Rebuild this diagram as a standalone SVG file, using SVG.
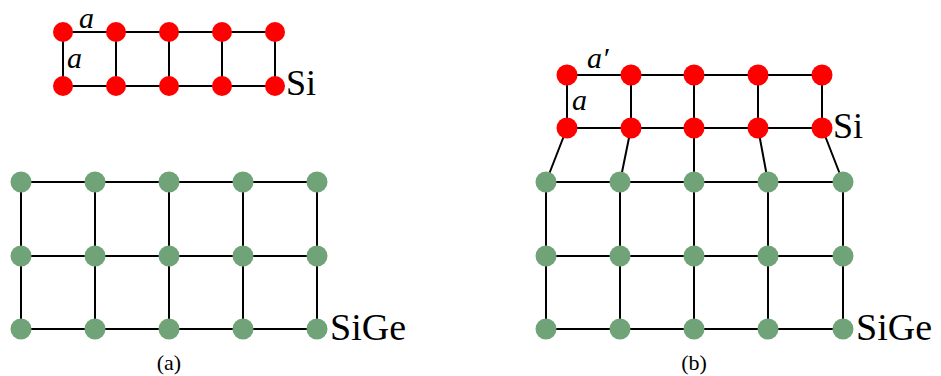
<svg xmlns="http://www.w3.org/2000/svg" width="941" height="376" viewBox="0 0 941 376">
<style>
.e{stroke:#000;stroke-width:2;fill:none}
.si{fill:#ff0000}
.sg{fill:#70a377}
</style>
<rect width="941" height="376" fill="#fff"/>
<g id="connectors" class="e">
<path d="M63,32H275M63,86H275M63,32V86M116,32V86M169,32V86M222,32V86M275,32V86"/>
<path d="M21,182H317M21,256H317M21,329H317M21,182V329M95,182V329M169,182V329M243,182V329M317,182V329"/>
<path d="M567,75H822M567,128H822M567,75V128M631,75V128M694,75V128M758,75V128M822,75V128"/>
<path d="M546,182H843M546,256H843M546,329H843M546,182V329M620,182V329M694,182V329M768,182V329M843,182V329"/>
<path d="M567,128L546,182M631,128L620,182M694,128L694,182M758,128L768,182M822,128L843,182"/>
</g>
<g id="si-a" class="si">
<circle cx="63" cy="32" r="10"/><circle cx="116" cy="32" r="10"/><circle cx="169" cy="32" r="10"/><circle cx="222" cy="32" r="10"/><circle cx="275" cy="32" r="10"/>
<circle cx="63" cy="86" r="10"/><circle cx="116" cy="86" r="10"/><circle cx="169" cy="86" r="10"/><circle cx="222" cy="86" r="10"/><circle cx="275" cy="86" r="10"/>
</g>
<g id="sige-a" class="sg">
<circle cx="21" cy="182" r="10.5"/><circle cx="95" cy="182" r="10.5"/><circle cx="169" cy="182" r="10.5"/><circle cx="243" cy="182" r="10.5"/><circle cx="317" cy="182" r="10.5"/>
<circle cx="21" cy="256" r="10.5"/><circle cx="95" cy="256" r="10.5"/><circle cx="169" cy="256" r="10.5"/><circle cx="243" cy="256" r="10.5"/><circle cx="317" cy="256" r="10.5"/>
<circle cx="21" cy="329" r="10.5"/><circle cx="95" cy="329" r="10.5"/><circle cx="169" cy="329" r="10.5"/><circle cx="243" cy="329" r="10.5"/><circle cx="317" cy="329" r="10.5"/>
</g>
<g id="si-b" class="si">
<circle cx="567" cy="75" r="10.5"/><circle cx="631" cy="75" r="10.5"/><circle cx="694" cy="75" r="10.5"/><circle cx="758" cy="75" r="10.5"/><circle cx="822" cy="75" r="10.5"/>
<circle cx="567" cy="128" r="10.5"/><circle cx="631" cy="128" r="10.5"/><circle cx="694" cy="128" r="10.5"/><circle cx="758" cy="128" r="10.5"/><circle cx="822" cy="128" r="10.5"/>
</g>
<g id="sige-b" class="sg">
<circle cx="546" cy="182" r="10.5"/><circle cx="620" cy="182" r="10.5"/><circle cx="694" cy="182" r="10.5"/><circle cx="768" cy="182" r="10.5"/><circle cx="843" cy="182" r="10.5"/>
<circle cx="546" cy="256" r="10.5"/><circle cx="620" cy="256" r="10.5"/><circle cx="694" cy="256" r="10.5"/><circle cx="768" cy="256" r="10.5"/><circle cx="843" cy="256" r="10.5"/>
<circle cx="546" cy="329" r="10.5"/><circle cx="620" cy="329" r="10.5"/><circle cx="694" cy="329" r="10.5"/><circle cx="768" cy="329" r="10.5"/><circle cx="843" cy="329" r="10.5"/>
</g>
<g id="labels" font-family="Liberation Serif, DejaVu Serif, serif" fill="#000">
<g font-style="italic" font-size="30">
<text x="79" y="28">a</text>
<text x="67" y="68">a</text>
<text x="587" y="68">a′</text>
<text x="572" y="110">a</text>
</g>
<text x="286" y="95" font-size="36">Si</text>
<text x="330" y="340" font-size="38">SiGe</text>
<text x="169" y="370" font-size="22" text-anchor="middle">(a)</text>
<text x="833" y="138" font-size="36">Si</text>
<text x="856" y="340" font-size="38">SiGe</text>
<text x="694" y="370" font-size="22" text-anchor="middle">(b)</text>
</g>
</svg>
